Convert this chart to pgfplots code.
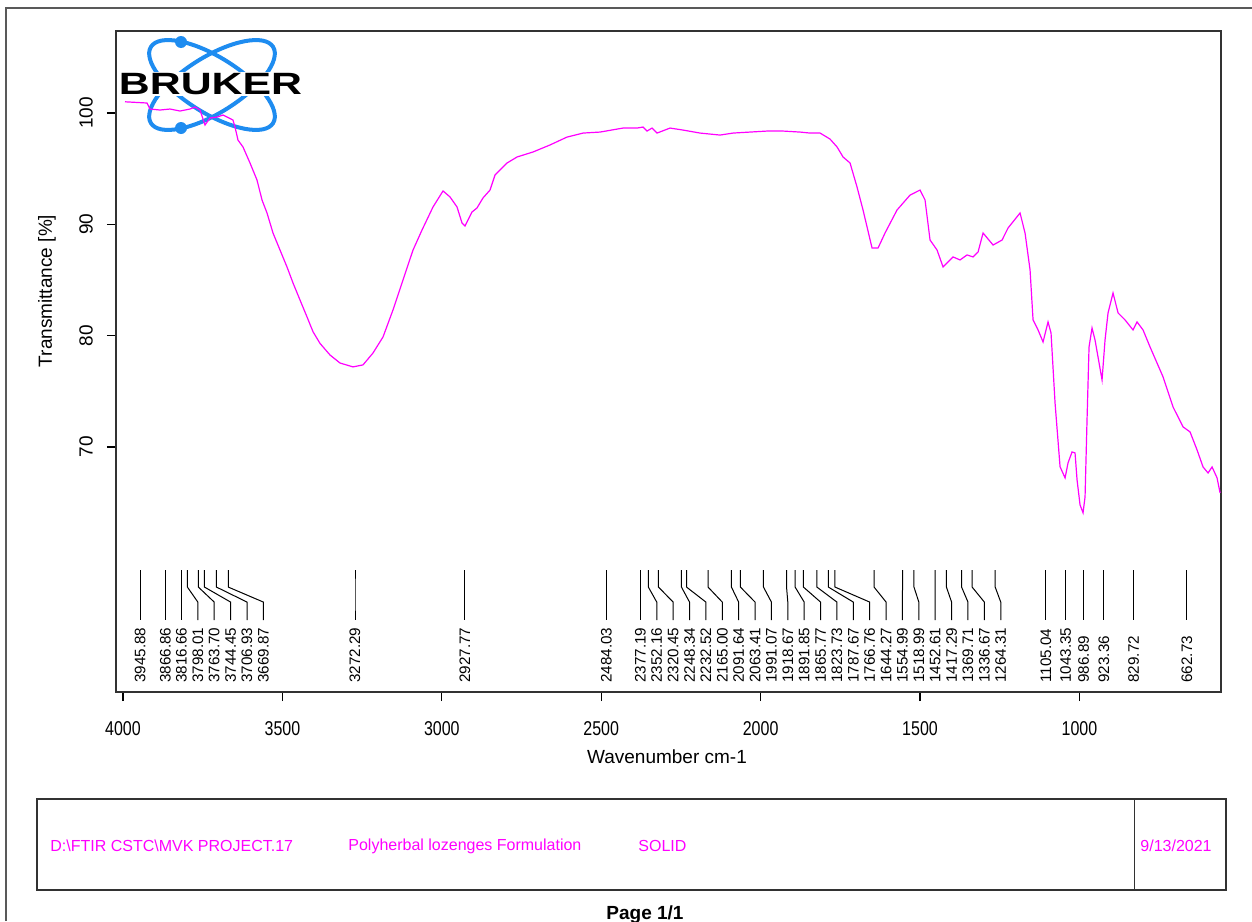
\documentclass[border=0pt]{standalone}
\usepackage{fontspec}
\setmainfont{Liberation Sans}
\newfontfamily\narrowfont{Liberation Sans}[FakeStretch=0.8]
\newfontfamily\brukerfont{Liberation Sans Bold}[FakeStretch=1.39]
\usepackage{pgfplots}
\pgfplotsset{compat=1.18}
\definecolor{specmag}{RGB}{255,0,255}
\definecolor{brukerblue}{RGB}{30,140,240}
\definecolor{frame}{RGB}{50,50,50}
\newcommand{\peakfont}{\fontsize{7.6}{8}\selectfont}
\pgfplotstableread{
x y
3993.7 101.01
3924.7 100.90
3915.3 100.36
3883.9 100.27
3852.6 100.36
3821.2 100.18
3789.8 100.36
3774.2 100.54
3758.5 100.27
3742.8 98.92
3727.1 99.55
3705.1 99.64
3686.3 99.82
3673.8 99.64
3655.0 99.37
3648.7 98.74
3639.3 97.57
3623.6 96.95
3601.6 95.51
3579.7 93.98
3564.0 92.19
3548.3 91.02
3529.5 89.22
3507.5 87.69
3485.6 86.17
3466.7 84.73
3444.8 83.20
3422.8 81.68
3404.0 80.35
3382.0 79.30
3350.7 78.26
3319.3 77.54
3278.5 77.19
3247.2 77.37
3215.8 78.44
3184.4 79.88
3153.1 82.31
3121.7 85.00
3090.3 87.69
3062.1 89.49
3027.6 91.56
2996.2 93.00
2974.3 92.46
2952.3 91.56
2936.6 90.12
2927.2 89.85
2905.3 91.11
2889.6 91.47
2870.8 92.37
2848.8 93.08
2833.1 94.43
2795.5 95.51
2764.1 96.05
2714.0 96.50
2660.7 97.13
2607.3 97.84
2557.1 98.20
2503.8 98.29
2431.6 98.65
2387.7 98.65
2368.9 98.74
2356.4 98.38
2340.7 98.65
2325.0 98.20
2284.2 98.65
2243.4 98.47
2190.1 98.20
2127.3 98.02
2086.5 98.20
2033.2 98.29
1979.9 98.38
1929.7 98.38
1876.4 98.29
1845.0 98.20
1813.6 98.20
1782.3 97.66
1760.3 96.95
1741.5 96.05
1719.5 95.51
1697.6 93.35
1678.8 91.29
1650.5 87.87
1631.7 87.87
1609.8 89.22
1572.1 91.29
1531.3 92.63
1500.0 93.08
1484.3 92.19
1468.6 88.59
1446.6 87.69
1427.8 86.17
1396.4 87.07
1374.5 86.80
1352.5 87.25
1333.7 87.07
1318.0 87.51
1302.3 89.22
1270.9 88.14
1242.7 88.59
1223.9 89.67
1186.3 91.02
1170.6 89.22
1154.9 85.90
1145.5 81.41
1129.8 80.51
1114.1 79.43
1098.5 81.23
1089.1 80.24
1076.5 73.95
1060.8 68.22
1045.1 67.22
1035.7 68.57
1023.2 69.55
1013.8 69.46
1007.5 67.04
998.1 64.79
988.7 64.08
982.4 65.51
976.2 72.42
969.9 78.98
960.5 80.69
951.1 79.61
929.1 76.02
919.7 79.61
910.3 82.04
894.6 83.83
878.9 82.04
857.0 81.41
831.9 80.51
819.3 81.23
800.5 80.51
778.5 78.98
737.7 76.29
706.4 73.59
675.0 71.80
653.1 71.35
631.1 69.73
612.3 68.20
596.6 67.66
584.0 68.20
568.4 67.22
558.9 65.87
}\spectrum
\begin{document}
\begin{tikzpicture}
\useasboundingbox (0pt,0pt) rectangle (626pt,-460.5pt);
\begin{scope}[x=0.5pt,y=-0.5pt]
  % page border
  \draw[gray!70!black, line width=0.65pt] (6,921) -- (6,8) -- (1252,8);
  % logo
  \draw[brukerblue, line width=2pt, rotate around={-32:(212,85)}] (212,85) ellipse (36pt and 14pt);
  \draw[brukerblue, line width=2pt, rotate around={32:(212,85)}] (212,85) ellipse (36pt and 14pt);
  \fill[brukerblue] (181,42) circle (3pt);
  \fill[brukerblue] (181,128) circle (3pt);
  \node[fill=white, inner sep=0.5pt, font=\brukerfont\fontsize{15.4}{16}\selectfont] at (210.5,84) {BRUKER};
  % axis labels
  \node[rotate=90, font=\fontsize{9.5}{10}\selectfont] at (47,291) {Transmittance [\%]};
  \node[font=\fontsize{9.5}{10}\selectfont] at (667,757) {Wavenumber cm-1};
  % info box
  \draw[frame, line width=0.65pt] (37,799) rectangle (1226,890);
  \draw[frame, line width=0.5pt] (1134,799) -- (1134,890);
  \begin{scope}[every node/.style={font=\fontsize{8}{9}\selectfont, text=specmag, anchor=west, inner sep=0pt}]
    \node at (50,846) {D:\textbackslash FTIR CSTC\textbackslash MVK PROJECT.17};
    \node at (348,846) {Polyherbal lozenges Formulation};
    \node at (638,846) {SOLID};
    \node at (1140,846) {9/13/2021};
  \end{scope}
  \node[anchor=north, font=\bfseries\fontsize{9.5}{10}\selectfont, inner sep=0pt] at (645,905) {Page 1/1};
\end{scope}
\begin{axis}[
  at={(58pt,-346pt)}, anchor=south west,
  width=552.5pt, height=330.5pt, scale only axis,
  x dir=reverse,
  xmin=556, xmax=4022, ymin=47.98, ymax=107.37,
  xtick={1000,1500,2000,2500,3000,3500,4000},
  ytick={70,80,90,100},
  tick align=outside, xtick pos=bottom, ytick pos=left,
  major tick length=4.5pt,
  axis line style={frame, line width=0.7pt},
  every tick/.style={black, line width=0.6pt},
  /pgf/number format/1000 sep={},
  /pgf/number format/assume math mode=true,
  xticklabel style={font=\narrowfont\fontsize{10}{11}\selectfont, yshift=-6.5pt},
  yticklabel style={font=\fontsize{9.5}{10}\selectfont, rotate=90, anchor=south, yshift=3.5pt},
]
\addplot[specmag, line width=0.6pt] table[x=x,y=y] {\spectrum};
\foreach \p/\l in {3945.88/3945.88, 3866.86/3866.86, 3816.66/3816.66,
  3798.01/3765.25, 3763.70/3713.85, 3744.45/3662.45, 3706.93/3611.05, 3669.87/3559.65,
  3272.29/3272.29, 2927.77/2927.77, 2484.03/2484.03,
  2377.19/2377.19, 2352.16/2325.81, 2320.45/2274.43, 2248.34/2223.05, 2232.52/2171.67,
  2165.00/2120.29, 2091.64/2068.91, 2063.41/2017.53, 1991.07/1966.15, 1918.67/1914.77,
  1891.85/1863.39, 1865.77/1812.01, 1823.73/1760.63, 1787.67/1709.25, 1766.76/1657.87,
  1644.27/1606.49, 1554.99/1555.11, 1518.99/1503.73, 1452.61/1452.35, 1417.29/1400.97,
  1369.71/1349.59, 1336.67/1298.21, 1264.31/1246.83,
  1105.04/1105.04, 1043.35/1043.35, 986.89/986.89, 923.36/923.36, 829.72/829.72, 662.73/662.73}{
  \edef\tmp{\noexpand\draw[black, line width=0.5pt] (axis cs:\p,58.94) -- (axis cs:\p,57.41) -- (axis cs:\l,56.06) -- (axis cs:\l,54.45);
  \noexpand\node[rotate=90, anchor=west, inner sep=0pt, font=\noexpand\peakfont] at (axis cs:\l,48.8) {\p};}
  \tmp
}
\end{axis}
\end{tikzpicture}
\end{document}
